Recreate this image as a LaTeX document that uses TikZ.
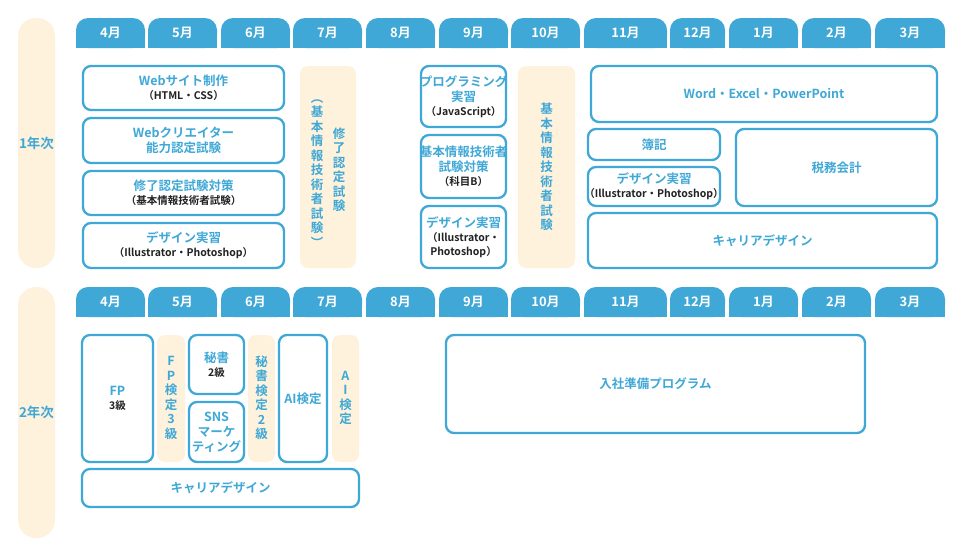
\documentclass[tikz,border=0pt]{standalone}
\usepackage{fontspec}
\setmainfont{Noto Sans CJK JP Bold}
\definecolor{bl}{HTML}{3FA8D6}
\definecolor{cr}{HTML}{FEF2DC}
\definecolor{tx}{HTML}{222222}
\tikzset{
 bx/.style={draw=bl,line width=2.3pt,rounded corners=8pt,fill=white},
 cb/.style={fill=cr,rounded corners=8pt},
 tt/.style={text=bl,font=\fontsize{12.5}{15}\selectfont,align=center},
 vt/.style={text=bl,font=\fontsize{12.5}{14.5}\selectfont,align=center},
 hd/.style={text=white,font=\fontsize{13}{15}\selectfont},
}
\newcommand{\sub}[1]{\\[-1pt]{\color{tx}\fontsize{10.5}{13}\selectfont #1}}
\newcommand{\sm}{\color{tx}\fontsize{10.5}{13}\selectfont}
\begin{document}
\begin{tikzpicture}[x=1pt,y=-1pt]
\useasboundingbox (0,0) rectangle (961,554);
\fill[white] (0,0) rectangle (961,554);
% year pills
\fill[cr,rounded corners=18pt] (18,18) rectangle (55,268);
\fill[cr,rounded corners=18pt] (18,287) rectangle (55,538);
\node[tt,font=\fontsize{13.5}{16}\selectfont] (y1) at (36.5,143) {1年次};
\node[tt,font=\fontsize{13.5}{16}\selectfont] (y2) at (36.5,412) {2年次};
% headers
\foreach \yy in {18,287}{
\foreach \a/\b/\m in {76/145/4,148/217/5,221/290/6,293/362/7,366/435/8,439/508/9,511/580/10,584/667/11,670/725/12,729/798/1,802/871/2,875/945/3}{
 \fill[bl,rounded corners=12pt] (\a,\yy) rectangle (\b,\yy+30);
 \fill[bl] (\a,\yy+15) rectangle (\b,\yy+30);
 \node[hd] at ({(\a+\b)/2},\yy+15) {\m 月};
}}
% year 1
\draw[bx] (83,66) rectangle node[tt] (a1) {Webサイト制作\sub{（HTML・CSS）}} (284,110);
\draw[bx] (83,118) rectangle node[tt] (a2) {Webクリエイター\\能力認定試験} (284,163);
\draw[bx] (83,171) rectangle node[tt] (a3) {修了認定試験対策\sub{（基本情報技術者試験）}} (284,215);
\draw[bx] (83,223) rectangle node[tt] (a4) {デザイン実習\sub{（Illustrator・Photoshop）}} (284,268);
\fill[cb] (300,66) rectangle (356,268);
\node[vt,anchor=north] (c1) at (317,96) {︵\\基\\本\\情\\報\\技\\術\\者\\試\\験\\︶};
\node[vt,anchor=north] (c2) at (339,124) {修\\了\\認\\定\\試\\験};
\draw[bx] (421,66) rectangle node[tt] (b1) {プログラミング\\実習\sub{（JavaScript）}} (506,127);
\draw[bx] (421,135) rectangle node[tt] (b2) {基本情報技術者\\試験対策\sub{（科目B）}} (506,198);
\draw[bx] (421,206) rectangle node[tt] (b3) {デザイン実習\\[-1pt]{\sm（Illustrator・}\\[-1pt]{\sm Photoshop）}} (506,268);
\fill[cb] (518,66) rectangle (575,268);
\node[vt] (c3) at (546.5,167) {基\\本\\情\\報\\技\\術\\者\\試\\験};
\draw[bx] (591,66) rectangle node[tt] (d1) {Word・Excel・PowerPoint} (937,122);
\draw[bx] (588,129) rectangle node[tt] (d2) {簿記} (720,160);
\draw[bx] (588,167) rectangle node[tt] (d3) {デザイン実習\sub{（Illustrator・Photoshop）}} (720,206);
\draw[bx] (736,129) rectangle node[tt] (d4) {税務会計} (937,206);
\draw[bx] (588,213) rectangle node[tt] (d5) {キャリアデザイン} (937,268);
% year 2
\draw[bx] (82,335) rectangle node[tt] (e1) {FP\sub{3級}} (153,462);
\fill[cb] (157,335) rectangle (185,462);
\node[vt] (f1) at (171,398) {F\\P\\検\\定\\3\\級};
\draw[bx] (189,335) rectangle node[tt] (e2) {秘書\sub{2級}} (244,394);
\draw[bx] (189,402) rectangle node[tt] (e3) {SNS\\マーケ\\ティング} (244,462);
\fill[cb] (248,335) rectangle (275,462);
\node[vt] (f2) at (261.5,398) {秘\\書\\検\\定\\2\\級};
\draw[bx] (279,335) rectangle node[tt] (e4) {AI検定} (327,462);
\fill[cb] (332,335) rectangle (359,462);
\node[vt] (f3) at (345.5,398) {A\\I\\検\\定};
\draw[bx] (82,469) rectangle node[tt] (e5) {キャリアデザイン} (359,507);
\draw[bx] (446,335) rectangle node[tt] (e6) {入社準備プログラム} (865,433);
\end{tikzpicture}
\end{document}
